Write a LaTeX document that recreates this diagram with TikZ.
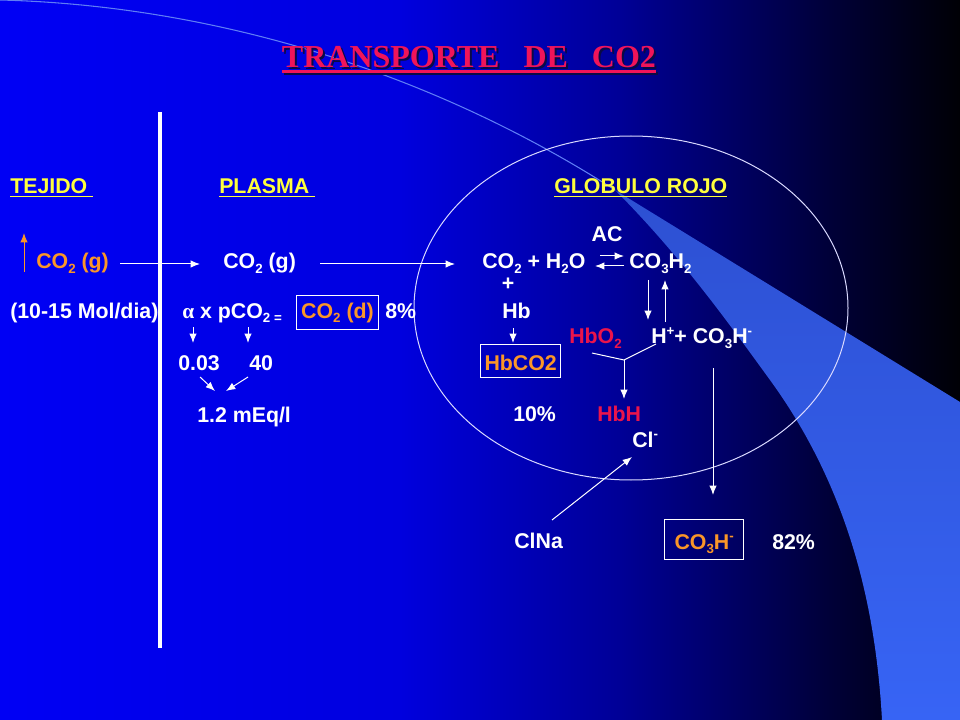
\documentclass[tikz,border=0pt]{standalone}
\usepackage{fontspec}
\setmainfont{Liberation Sans}
\newfontfamily\serifb{Liberation Serif}
\usetikzlibrary{arrows.meta}
\definecolor{bgA}{RGB}{0,0,245}
\definecolor{bgB}{RGB}{0,0,222}
\definecolor{bgC}{RGB}{0,0,150}
\definecolor{bgD}{RGB}{0,0,60}
\definecolor{bgE}{RGB}{0,0,5}
\definecolor{swA}{RGB}{45,80,210}
\definecolor{swB}{RGB}{55,100,245}
\definecolor{swline}{RGB}{95,125,245}
\definecolor{org}{RGB}{250,150,40}
\definecolor{rd}{RGB}{235,20,75}
\definecolor{yel}{RGB}{255,255,60}
\definecolor{tit}{RGB}{240,20,90}
\definecolor{titsh}{RGB}{10,10,70}
\newcommand\dn[1]{\raisebox{-0.22em}{\fontsize{10}{11}\selectfont #1}}
\newcommand\up[1]{\raisebox{0.42em}{\fontsize{10}{11}\selectfont #1}}
\newcommand\myul[1]{\setbox0=\hbox{#1}\rlap{\rule[-2.6pt]{\wd0}{1.4pt}}\box0}
\newcommand\titul[1]{\setbox0=\hbox{#1}\rlap{\rule[-3.7pt]{\wd0}{2.1pt}}\box0}
\begin{document}
\begin{tikzpicture}[x=0.75pt,y=-0.75pt,
  txt/.style={anchor=base west, inner sep=0pt, text=white, font=\fontsize{16}{19}\selectfont\bfseries},
  boxed/.style={draw=white, line width=0.75pt, inner ysep=0pt},
  arr/.style={draw=white, line width=0.75pt, -{Latex[length=7pt,width=5.5pt]}},
  ttl/.style={anchor=base, inner sep=0pt, font=\serifb\bfseries\fontsize{24}{28}\selectfont}]
\useasboundingbox (0,0) rectangle (960,720);
% background
\shade[left color=bgA, right color=bgB] (0,0) rectangle (401,720);
\shade[left color=bgB, right color=bgC] (400,0) rectangle (621,720);
\shade[left color=bgC, right color=bgD] (620,0) rectangle (821,720);
\shade[left color=bgD, right color=bgE] (820,0) rectangle (960,720);
% swoosh
\shade[top color=swA, bottom color=swB]
  (615,190) -- (960,402) -- (960,720) -- (882,720)
  .. controls (876,610) and (850,490) .. (770,380)
  .. controls (730,325) and (680,255) .. (615,190) -- cycle;
\draw[swline, line width=0.8pt] (0,0) .. controls (200,5) and (420,65) .. (615,190);
% divider and cell
\draw[white, line width=3pt] (160,112) -- (160,648);
\draw[white!85!blue, line width=0.75pt] (631,308) ellipse [x radius=217, y radius=172];
% title
\node[ttl, text=titsh] (titsh) at (471,70) {\titul{TRANSPORTE\ \ \ DE\ \ \ CO2}};
\node[ttl, text=tit] (title) at (469,68) {\titul{TRANSPORTE\ \ \ DE\ \ \ CO2}};
% headings
\node[txt, text=yel] (tej) at (10,194) {\myul{TEJIDO\ }};
\node[txt, text=yel] (pla) at (219,194) {\myul{PLASMA\ }};
\node[txt, text=yel] (glo) at (554,194) {\myul{GLOBULO ROJO}};
% row texts
\node[txt, anchor=base] (ac) at (607,242) {AC};
\node[txt, text=org] (cog1) at (36,269) {CO\dn{2} (g)};
\node[txt] (cog2) at (223,269) {CO\dn{2} (g)};
\node[txt] (eq) at (482,269) {CO\dn{2} + H\dn{2}O};
\node[txt] (hcoo) at (629,269) {CO\dn{3}H\dn{2}};
\node[txt, anchor=base] (plus) at (508,291) {+};
\node[txt] (mol) at (10,318) {(10-15 Mol/dia)};
\node[txt] (alpha) at (182,318) {{\serifb α} x pCO\dn{2 =}};
\node[txt, boxed, text=org, inner xsep=3.5pt, text height=16.5pt, text depth=8.25pt] (cod) at (296,318) {CO\dn{2} (d)};
\node[txt] (p8) at (385,318) {8\%};
\node[txt] (hb) at (502,318) {Hb};
\node[txt, text=rd] (hbo) at (569,344) {HbO\dn{2}};
\node[txt] (hplus) at (651,344) {H\up{+}+ CO\dn{3}H\up{-}};
\node[txt] (n003) at (178,370) {0.03};
\node[txt] (n40) at (249,370) {40};
\node[txt, boxed, text=org, inner xsep=3pt, text height=19.5pt, text depth=5.25pt] (hbco) at (480,370) {HbCO2};
\node[txt] (meq) at (197,422) {1.2 mEq/l};
\node[txt] (p10) at (513,421) {10\%};
\node[txt, text=rd] (hbh) at (597,421) {HbH};
\node[txt] (cl) at (632,447) {Cl\up{-}};
\node[txt] (clna) at (514,548) {ClNa};
\node[txt, boxed, text=org, inner xsep=7.5pt, text height=22.5pt, text depth=7.5pt] (hco) at (664,549) {CO\dn{3}H\up{-}};
\node[txt] (p82) at (772,549) {82\%};
% connector end points
\coordinate (u1) at (24,272); \coordinate (u2) at (24,233);
\coordinate (a1) at (120,264); \coordinate (a2) at (200,264);
\coordinate (b1) at (320,264); \coordinate (b2) at (455,264);
\coordinate (r1) at (600,256); \coordinate (r2) at (624,256);
\coordinate (l1) at (624,266); \coordinate (l2) at (595,266);
\coordinate (d1) at (648,280); \coordinate (d2) at (648,320);
\coordinate (e1) at (665,322); \coordinate (e2) at (665,280);
\coordinate (al1) at (193,327); \coordinate (al2) at (193,343);
\coordinate (pc1) at (248,327); \coordinate (pc2) at (248,343);
\coordinate (hb1) at (513,328); \coordinate (hb2) at (513,343);
\coordinate (c1) at (200,377); \coordinate (c2) at (215,391);
\coordinate (f1) at (248,377); \coordinate (f2) at (226,391);
\coordinate (g1) at (592,353); \coordinate (g2) at (656,344);
\coordinate (gm) at (624,360); \coordinate (gd) at (624,399);
\coordinate (k1) at (713,368); \coordinate (k2) at (713,495);
\coordinate (m1) at (552,520); \coordinate (m2) at (632,457);
% connectors
\draw[arr, draw=org, -{Latex[length=7pt,width=5.5pt,color=org]}] (u1) -- (u2);
\draw[arr] (a1) -- (a2);
\draw[arr] (b1) -- (b2);
\draw[arr] (r1) -- (r2);
\draw[arr] (l1) -- (l2);
\draw[arr] (d1) -- (d2);
\draw[arr] (e1) -- (e2);
\draw[arr] (al1) -- (al2);
\draw[arr] (pc1) -- (pc2);
\draw[arr] (hb1) -- (hb2);
\draw[arr] (c1) -- (c2);
\draw[arr] (f1) -- (f2);
\draw[white, line width=0.75pt] (g1) -- (gm) -- (g2);
\draw[arr] (gm) -- (gd);
\draw[arr] (k1) -- (k2);
\draw[arr] (m1) -- (m2);
\end{tikzpicture}
\end{document}
